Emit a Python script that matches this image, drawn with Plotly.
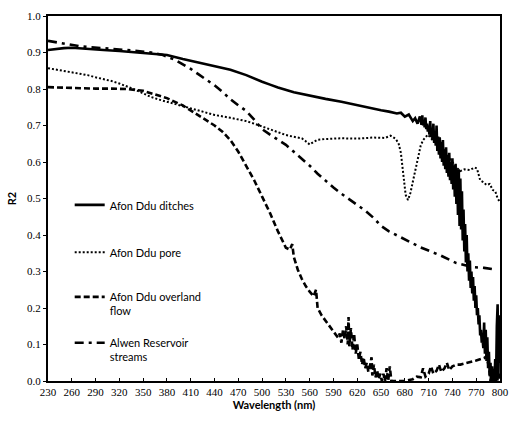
import plotly.graph_objects as go

# Afon Ddu ditches
ditch_wl = [230, 240, 250, 260, 270, 280, 290, 300, 320, 340, 360, 380, 400, 420, 440, 460, 480, 490,
            500, 510, 520, 540, 560, 580, 600, 620, 640, 650, 660, 670, 675, 680, 685, 690, 693, 696,
            699] + list(range(700, 801))
ditch_r2 = [0.907, 0.910, 0.912, 0.913, 0.912, 0.911, 0.909, 0.907, 0.904, 0.900, 0.897, 0.893, 0.882,
            0.872, 0.862, 0.853, 0.838, 0.828, 0.820, 0.812, 0.804, 0.791, 0.781, 0.773, 0.765, 0.755,
            0.747, 0.742, 0.738, 0.733, 0.735, 0.724, 0.730, 0.712, 0.720, 0.705, 0.725,
            # 700 - 800 nm, 1 nm steps
            0.715, 0.702, 0.728, 0.700, 0.712, 0.695, 0.722, 0.690, 0.705, 0.683,
            0.700, 0.675, 0.712, 0.668, 0.690, 0.660, 0.705, 0.652, 0.680, 0.645,
            0.700, 0.630, 0.670, 0.620, 0.668, 0.610, 0.655, 0.600, 0.660, 0.590,
            0.635, 0.580, 0.640, 0.570, 0.620, 0.560, 0.625, 0.550, 0.600, 0.540,
            0.610, 0.525, 0.590, 0.505, 0.595, 0.485, 0.580, 0.455, 0.580, 0.425,
            0.555, 0.415, 0.520, 0.385, 0.470, 0.355, 0.430, 0.325, 0.400, 0.300,
            0.350, 0.275, 0.330, 0.255, 0.300, 0.240, 0.285, 0.220, 0.260, 0.200,
            0.235, 0.180, 0.200, 0.155, 0.180, 0.125, 0.140, 0.105, 0.115, 0.090,
            0.160, 0.075, 0.140, 0.055, 0.120, 0.035, 0.080, 0.015, 0.050, 0.000,
            0.040, 0.000, 0.030, 0.000, 0.060, 0.000, 0.150, 0.210, 0.010, 0.180,
            0.050]

# Afon Ddu pore
pore_wl = [230, 240, 250, 260, 270, 280, 290, 300, 310, 320, 330, 340, 350, 360, 370, 380, 400, 420,
           440, 460, 480, 490, 500, 510, 520, 530, 540, 550, 555, 560, 565, 570, 580, 600, 620, 640,
           655, 662, 668, 672, 675, 678, 681, 684, 687, 690, 693, 697, 700, 703, 709, 715, 720, 730,
           740, 745, 750, 755, 762, 768, 771, 775, 779, 783, 787, 791, 794, 797, 800]
pore_r2 = [0.857, 0.853, 0.849, 0.846, 0.843, 0.838, 0.832, 0.828, 0.822, 0.815, 0.807, 0.798, 0.788,
           0.778, 0.771, 0.765, 0.751, 0.739, 0.729, 0.721, 0.712, 0.705, 0.697, 0.688, 0.680, 0.674,
           0.669, 0.665, 0.657, 0.648, 0.655, 0.661, 0.663, 0.665, 0.664, 0.667, 0.666, 0.672, 0.664,
           0.652, 0.625, 0.570, 0.510, 0.496, 0.515, 0.545, 0.578, 0.620, 0.645, 0.660, 0.675, 0.660,
           0.655, 0.630, 0.600, 0.585, 0.575, 0.580, 0.578, 0.585, 0.582, 0.550, 0.545, 0.537, 0.540,
           0.523, 0.520, 0.500, 0.490]

# Afon Ddu overland flow
over_wl = [230, 250, 270, 290, 310, 330, 350, 370, 380, 400, 420, 440, 450, 460, 470, 480, 490, 500,
           510, 520, 530, 535, 538, 540, 545, 550, 555, 560, 565, 568, 570, 575, 580, 585,
           590, 593, 596, 598, 600, 602, 604, 606, 608, 609, 610, 612, 614, 616, 618, 620, 622, 624,
           626, 628, 630, 632, 634, 636, 638, 639, 641, 643, 645, 647, 649, 651, 653, 655, 657, 659,
           661, 663, 670, 680, 690, 695, 700, 703, 706, 710, 713, 716, 720, 723, 726, 730,
           733, 736, 740, 745, 750, 760, 770, 780, 783, 786, 788, 790, 792, 795, 797, 800]
over_r2 = [0.805, 0.803, 0.802, 0.801, 0.801, 0.800, 0.795, 0.783, 0.775, 0.755, 0.728, 0.700, 0.683,
           0.660, 0.628, 0.590, 0.550, 0.505, 0.460, 0.410, 0.365, 0.360, 0.375, 0.340, 0.305, 0.280,
           0.260, 0.245, 0.232, 0.250, 0.200, 0.180, 0.165, 0.150,
           0.135, 0.125, 0.118, 0.130, 0.105, 0.140, 0.115, 0.150, 0.100, 0.175, 0.095, 0.145, 0.085,
           0.130, 0.075, 0.100, 0.060, 0.080, 0.045, 0.065, 0.035, 0.050, 0.025, 0.040, 0.065, 0.015,
           0.045, 0.010, 0.030, 0.005, 0.020, 0.000, 0.020, 0.000, 0.035, 0.000, 0.040, 0.000,
           0.000, 0.000, 0.005, 0.012, 0.010, 0.035, 0.012, 0.020, 0.040, 0.020, 0.028, 0.045, 0.025,
           0.035, 0.050, 0.030, 0.040, 0.045, 0.045, 0.050, 0.056, 0.063, 0.068, 0.040, 0.000, 0.030,
           0.000, 0.050, 0.000, 0.020]

# Alwen Reservoir streams
alwen_wl = [230, 240, 250, 260, 270, 280, 300, 320, 340, 360, 375, 390, 400, 410, 420, 430, 440, 450,
            460, 470, 480, 490, 500, 510, 520, 530, 540, 550, 560, 570, 580, 590, 600, 610, 620, 630,
            640, 650, 660, 675, 700, 725, 745, 765, 780, 795]
alwen_r2 = [0.932, 0.928, 0.924, 0.920, 0.917, 0.915, 0.912, 0.909, 0.905, 0.900, 0.893, 0.880, 0.868,
            0.855, 0.840, 0.826, 0.810, 0.792, 0.772, 0.755, 0.740, 0.716, 0.690, 0.675, 0.662, 0.647,
            0.628, 0.610, 0.590, 0.568, 0.548, 0.530, 0.513, 0.497, 0.482, 0.467, 0.448, 0.425, 0.410,
            0.393, 0.366, 0.344, 0.323, 0.312, 0.310, 0.305]

series_names = ["Afon Ddu ditches", "Afon Ddu pore", "Afon Ddu overland<br>flow",
                "Alwen Reservoir<br>streams"]
x_ticks = list(range(230, 801, 30))
y_ticks = [0.0, 0.1, 0.2, 0.3, 0.4, 0.5, 0.6, 0.7, 0.8, 0.9, 1.0]

SERIF = "Liberation Serif"
SANS = "Lato"

line_styles = [
    dict(color="black", width=2.6, dash="solid"),
    dict(color="black", width=2.0, dash="2px,2px"),
    dict(color="black", width=2.6, dash="6px,3px"),
    dict(color="black", width=2.6, dash="9px,5px,3px,5px"),
]
data = [(ditch_wl, ditch_r2), (pore_wl, pore_r2), (over_wl, over_r2), (alwen_wl, alwen_r2)]
legend_ids = ["legend", "legend2", "legend3", "legend4"]
legend_tops = [0.52, 0.39, 0.268, 0.142]

fig = go.Figure()
for (wl, r2), name, style, lg in zip(data, series_names, line_styles, legend_ids):
    fig.add_trace(go.Scatter(x=wl, y=r2, mode="lines", name=name, line=style, legend=lg))

legend_common = dict(x=0.048, xanchor="left", yanchor="top", bgcolor="rgba(0,0,0,0)",
                     borderwidth=0, font=dict(family=SANS, size=11, color="black"),
                     valign="top", tracegroupgap=0, itemwidth=30)
layout_legends = {lg: dict(y=yt, **legend_common) for lg, yt in zip(legend_ids, legend_tops)}

fig.update_layout(
    template="none",
    width=509, height=430,
    margin=dict(l=48, r=9, t=16, b=49),
    paper_bgcolor="white", plot_bgcolor="white",
    font=dict(family=SERIF, size=11, color="black"),
    showlegend=True,
    **layout_legends,
)
fig.update_xaxes(
    range=[230, 800], tickvals=x_ticks, ticktext=[str(v) for v in x_ticks],
    showgrid=False, zeroline=False, showline=True, linecolor="black", linewidth=2,
    mirror=True, ticks="inside", ticklen=3, tickcolor="black", tickwidth=1,
    tickfont=dict(family=SERIF, size=11, color="black"),
    title=dict(text="<b>Wavelength (nm)</b>", font=dict(family=SANS, size=11, color="black"),
               standoff=0),
)
fig.update_yaxes(
    range=[0, 1.0], tickvals=y_ticks, ticktext=[f"{v:.1f}" for v in y_ticks],
    showgrid=False, zeroline=False, showline=True, linecolor="black", linewidth=2,
    mirror=True, ticks="outside", ticklen=3, tickcolor="black", tickwidth=1,
    tickfont=dict(family=SERIF, size=11, color="black"),
    title=dict(text="<b>R2</b>", font=dict(family=SANS, size=11, color="black"), standoff=8),
)

fig.write_html("out.html")
